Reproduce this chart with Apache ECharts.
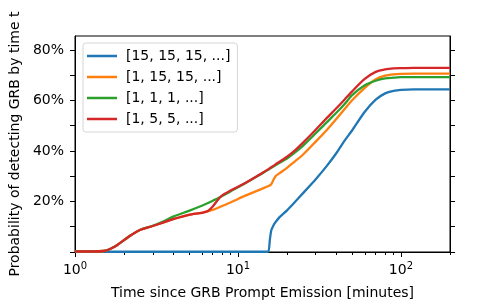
<!DOCTYPE html>
<html>
<head>
<meta charset="utf-8">
<script src="https://cdn.jsdelivr.net/npm/echarts@6/dist/echarts.min.js"></script>
<style>html,body{margin:0;padding:0;background:#fff}#c{width:500px;height:300px}</style>
</head>
<body>
<div id="c"></div>
<script>
var seriesNames = ['[15, 15, 15, ...]', '[1, 15, 15, ...]', '[1, 1, 1, ...]', '[1, 5, 5, ...]'];
var colors = ['#1f77b4', '#ff7f0e', '#2ca02c', '#d62728'];
var times = [1, 1.3, 1.5, 1.6, 1.7, 1.8, 2, 2.2, 2.5, 3, 3.5, 4, 5, 6, 6.5, 7, 7.5, 8, 9, 10, 12, 14, 15.3, 15.7, 16, 16.5, 17, 18, 20, 22, 25, 30, 35, 40, 45, 50, 60, 70, 80, 90, 100, 120, 150, 200];
var blue = [0.001, 0.001, 0.001, 0.001, 0.001, 0.001, 0.001, 0.001, 0.001, 0.001, 0.001, 0.001, 0.001, 0.001, 0.001, 0.001, 0.001, 0.001, 0.001, 0.001, 0.001, 0.001, 0.001, 0.05, 0.085, 0.105, 0.118, 0.138, 0.165, 0.193, 0.232, 0.288, 0.34, 0.39, 0.44, 0.48, 0.555, 0.603, 0.628, 0.638, 0.642, 0.644, 0.644, 0.644];
var orange = [0.002, 0.002, 0.004, 0.009, 0.017, 0.026, 0.047, 0.066, 0.087, 0.103, 0.117, 0.13, 0.147, 0.155, 0.161, 0.167, 0.174, 0.182, 0.196, 0.21, 0.232, 0.25, 0.26, 0.264, 0.268, 0.285, 0.3, 0.312, 0.333, 0.355, 0.385, 0.437, 0.482, 0.525, 0.565, 0.6, 0.65, 0.684, 0.698, 0.703, 0.705, 0.706, 0.706, 0.706];
var green = [0.002, 0.002, 0.004, 0.009, 0.017, 0.026, 0.047, 0.066, 0.087, 0.104, 0.122, 0.14, 0.163, 0.183, 0.193, 0.203, 0.212, 0.222, 0.24, 0.256, 0.285, 0.31, 0.325, 0.33, 0.333, 0.338, 0.343, 0.353, 0.37, 0.39, 0.42, 0.47, 0.513, 0.55, 0.585, 0.62, 0.66, 0.678, 0.687, 0.69, 0.692, 0.692, 0.692, 0.692];
var red = [0.002, 0.002, 0.004, 0.009, 0.017, 0.026, 0.047, 0.066, 0.087, 0.103, 0.117, 0.13, 0.147, 0.155, 0.161, 0.18, 0.205, 0.224, 0.243, 0.258, 0.286, 0.312, 0.327, 0.332, 0.336, 0.341, 0.347, 0.357, 0.377, 0.398, 0.432, 0.484, 0.53, 0.568, 0.603, 0.635, 0.685, 0.713, 0.723, 0.727, 0.728, 0.729, 0.729, 0.729];
var yTickLabels = [0.2, 0.4, 0.6, 0.8];
var yTicks = [0, 0.1, 0.2, 0.3, 0.4, 0.5, 0.6, 0.7, 0.8];
var xTickLabels = [1, 10, 100];
var xMajorTicks = [1, 10, 100];
var xMinorTicks = [2, 3, 4, 5, 6, 7, 8, 9, 20, 30, 40, 50, 60, 70, 80, 90, 200];

var values = [blue, orange, green, red];
var font = 'DejaVu Sans';
var chart = echarts.init(document.getElementById('c'), null, {renderer: 'canvas'});
var series = values.map(function (arr, i) {
  return {
    name: seriesNames[i], type: 'line', showSymbol: false, smooth: 0.25,
    xAxisIndex: 0, yAxisIndex: 0,
    lineStyle: {color: colors[i], width: 2.3}, itemStyle: {color: colors[i]},
    data: times.map(function (t, j) { return [t, arr[j]]; })
  };
});
chart.setOption({
  animation: false,
  textStyle: {fontFamily: font},
  grid: {left: 75, right: 50, top: 36, bottom: 48, show: true, borderColor: '#000', borderWidth: 1,
    containLabel: false, outerBoundsMode: 'none'},
  legend: {
    orient: 'vertical', left: 83, top: 43, padding: [6, 7, 6, 4], itemGap: 7,
    backgroundColor: '#fff', borderColor: '#d6d6d6', borderWidth: 1, borderRadius: 3,
    icon: 'rect', itemWidth: 30, itemHeight: 2.5,
    textStyle: {fontFamily: font, fontSize: 14, color: '#000', lineHeight: 14, padding: [0, 0, 0, 4]},
    data: seriesNames
  },
  xAxis: [{
    type: 'log', logBase: 10, min: 1, max: 200,
    name: 'Time since GRB Prompt Emission [minutes]', nameLocation: 'middle', nameGap: 34,
    nameTextStyle: {fontFamily: font, fontSize: 14, color: '#000'},
    axisLine: {show: true, lineStyle: {color: '#000', width: 1}},
    axisTick: {show: true, inside: false, length: 5, lineStyle: {color: '#000'}, customValues: xMajorTicks},
    axisLabel: {
      customValues: xTickLabels, margin: 9, color: '#000',
      formatter: function (v) { return '{b|10}{s|' + Math.round(Math.log10(v)) + '}'; },
      rich: {b: {fontFamily: font, fontSize: 14, color: '#000'}, s: {fontFamily: font, fontSize: 10, color: '#000', padding: [0, 0, 8, 0]}}
    },
    splitLine: {show: false}
  }, {
    type: 'log', logBase: 10, min: 1, max: 200, position: 'bottom', gridIndex: 0,
    axisLine: {show: false},
    axisTick: {show: true, inside: false, length: 3, lineStyle: {color: '#000'}, customValues: xMinorTicks},
    axisLabel: {show: false}, splitLine: {show: false}
  }],
  yAxis: [{
    type: 'value', min: 0, max: 0.855,
    name: 'Probability of detecting GRB by time t', nameLocation: 'middle', nameGap: 43,
    nameTextStyle: {fontFamily: font, fontSize: 14, color: '#000'},
    axisLine: {show: true, lineStyle: {color: '#000', width: 1}},
    axisTick: {show: true, inside: false, length: 5, lineStyle: {color: '#000'}, customValues: yTicks},
    axisLabel: {customValues: yTickLabels, margin: 11, color: '#000', fontFamily: font, fontSize: 14,
      formatter: function (v) { return Math.round(v * 100) + '%'; }},
    splitLine: {show: false}
  }, {
    type: 'value', min: 0, max: 0.855, position: 'right',
    axisLine: {show: true, lineStyle: {color: '#000', width: 1}},
    axisTick: {show: true, inside: false, length: 5, lineStyle: {color: '#000'}, customValues: yTicks},
    axisLabel: {show: false}, splitLine: {show: false}
  }],
  series: series
});
</script>
</body>
</html>
